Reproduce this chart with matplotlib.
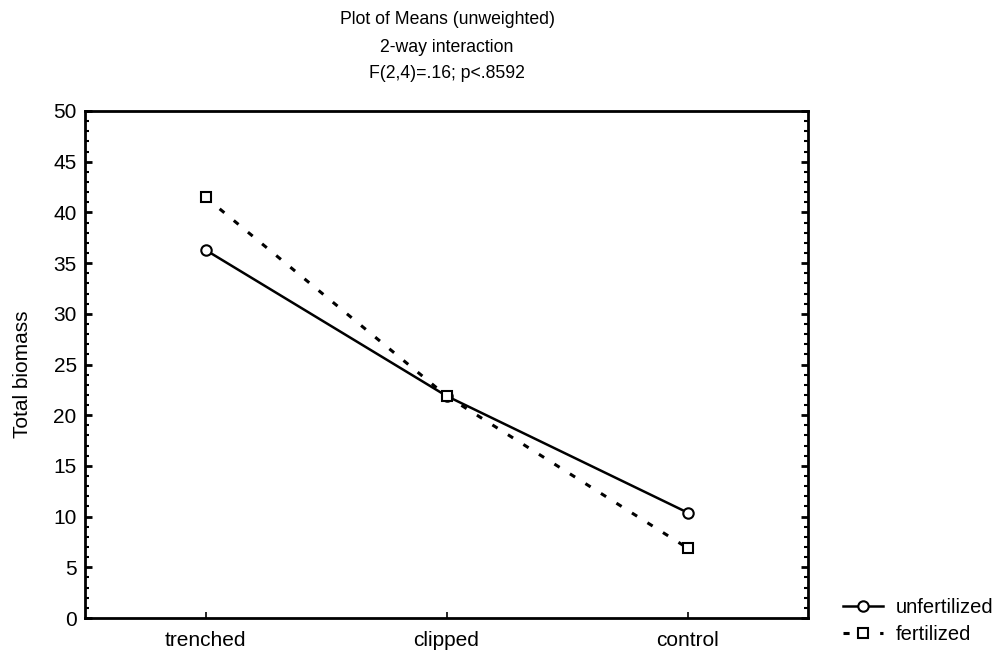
import matplotlib
matplotlib.use('Agg')
import matplotlib.pyplot as plt
from matplotlib.ticker import MultipleLocator

plt.rcParams['font.family'] = ['Liberation Sans', 'DejaVu Sans']

# Data
categories = ['trenched', 'clipped', 'control']
unfertilized = [36.3, 21.9, 10.4]
fertilized = [41.5, 21.9, 6.9]
title_lines = ['Plot of Means (unweighted)', '2-way interaction', 'F(2,4)=.16; p<.8592']

fig = plt.figure(figsize=(9.99, 6.56), dpi=100)
ax = fig.add_axes([85 / 999, 1 - 618 / 656, (808 - 85) / 999, (618 - 111) / 656])

x = range(len(categories))
ax.plot(x, unfertilized, color='black', lw=1.8, marker='o', ms=7.5,
        mfc='white', mec='black', mew=1.5, label='unfertilized')
ax.plot(x, fertilized, color='black', lw=2.2, ls=(0, (2, 4)), marker='s', ms=7.5,
        mfc='white', mec='black', mew=1.5, label='fertilized')

ax.set_xlim(-0.5, 2.5)
ax.set_ylim(0, 50)
ax.set_xticks(list(x))
ax.set_xticklabels(categories)
ax.yaxis.set_major_locator(MultipleLocator(5))
ax.yaxis.set_minor_locator(MultipleLocator(1))
ax.tick_params(axis='y', which='both', direction='in', right=True, left=True,
               labelsize=15, pad=6)
ax.tick_params(axis='y', which='major', length=5, width=2)
ax.tick_params(axis='y', which='minor', length=3, width=1.5)
ax.tick_params(axis='x', direction='in', length=4, width=1.2, labelsize=15, pad=9.5)
for s in ax.spines.values():
    s.set_linewidth(2)

ax.set_ylabel('Total biomass', fontsize=15)
ax.yaxis.set_label_coords(23 / 999, 1 - 374 / 656, transform=fig.transFigure)
ax.yaxis.label.set_va('center')
for text, ypix in zip(title_lines, [20, 47, 73]):
    fig.text(447 / 999, 1 - ypix / 656, text, ha='center', va='center', fontsize=12.7)

ax.legend(loc='center left', bbox_to_anchor=(833 / 999, 1 - 621 / 656),
          bbox_transform=fig.transFigure, frameon=False, fontsize=14.5,
          handlelength=2.0, handletextpad=0.6, labelspacing=0.4, borderpad=0)

fig.savefig('out.png', dpi=100)
